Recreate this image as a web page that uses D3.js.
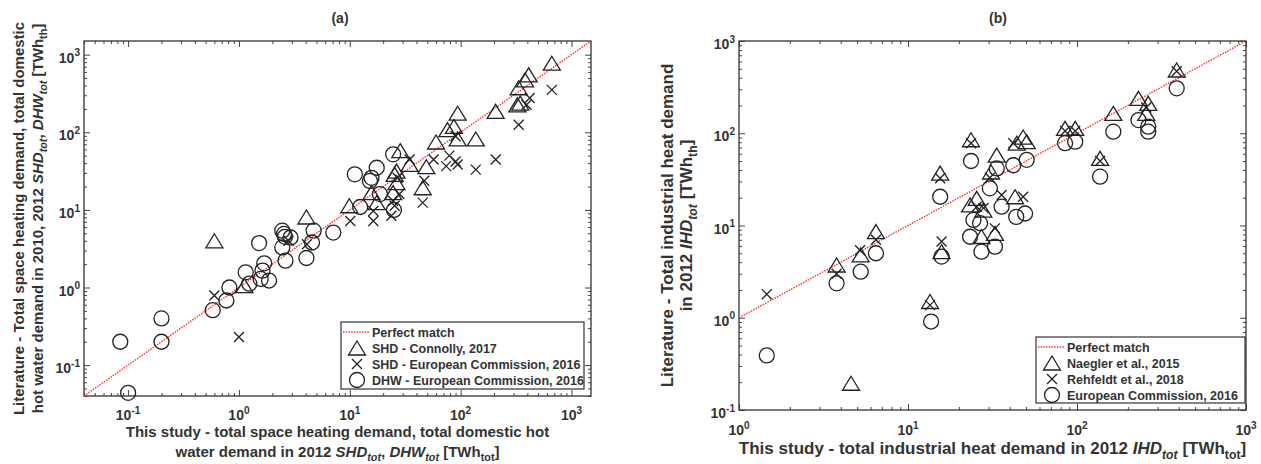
<!DOCTYPE html>
<html>
<head>
<meta charset="utf-8">
<script src="https://cdn.jsdelivr.net/npm/d3@7"></script>
<style>
body { margin: 0; background: #fff; }
text { font-family: "Liberation Sans", Arial, sans-serif; font-weight: bold; fill: #333; }
</style>
</head>
<body>
<script>
// ---- panel (a): space heating / domestic hot water, [x = this study, y = literature] ----
const shdConnolly = [
  [0.6, 4.0], [1.12, 1.06], [4.06, 8.1], [9.9, 11.3], [15.7, 16.7], [17.5, 12.4],
  [24.6, 16.7], [25.4, 28.7], [26.4, 31.6], [26.4, 22.4], [28.5, 58], [34.6, 38.5],
  [45.5, 19.3], [49, 36], [60, 75], [76, 108], [87, 119], [94, 176], [94, 82],
  [137, 82], [207, 186], [325, 226], [345, 238], [334, 375], [381, 473], [411, 550], [665, 776]
]
const shdEC = [
  [0.6, 0.79], [1.0, 0.23], [2.8, 4.0], [4.1, 3.6], [10.1, 7.2], [16.3, 7.2], [16.3, 9.7],
  [23.7, 8.4], [24.6, 13], [27, 26], [28, 16], [25.4, 11.3], [34.6, 44.7], [47, 23.7],
  [45.5, 12.4], [57, 44.7], [74, 36.6], [79, 50], [94, 38.5], [90, 42], [90, 89],
  [137, 33], [207, 44.7], [334, 125], [393, 226], [420, 276], [665, 352]
]
const dhwEC = [
  [0.085, 0.2], [0.1, 0.044], [0.2, 0.4], [0.2, 0.2], [0.58, 0.51], [0.77, 0.68], [0.82, 1.0],
  [1.15, 1.57], [1.24, 1.12], [1.57, 1.29], [1.87, 1.23], [1.69, 2.05], [1.63, 1.65],
  [1.52, 3.74], [2.46, 5.4], [2.55, 4.9], [2.6, 4.5], [2.46, 3.28], [2.63, 2.22], [4.06, 2.4],
  [4.56, 3.8], [4.72, 5.4], [2.92, 4.41], [7.1, 5.1], [12.4, 10.9], [11.1, 28.7], [15.7, 25.9],
  [17.5, 34.9], [18.7, 16.0], [24.6, 52], [15.2, 23.6], [25, 10]
]

// ---- panel (b): industrial heat demand ----
const naegler = [
  [3.78, 3.73], [4.6, 0.195], [5.25, 4.8], [6.46, 8.6], [13.5, 1.5], [15.8, 5.2], [15.5, 37],
  [23.6, 85], [23.3, 16.7], [25.5, 19.7], [27.9, 14.7], [27.2, 7.6], [31, 38], [33.5, 58],
  [32.7, 8.2], [43, 20.5], [44, 78], [48, 91], [50.4, 81], [85, 113], [97.6, 113],
  [137, 53.5], [164, 164], [231, 239], [264, 211], [257, 164], [389, 485]
]
const rehfeldt = [
  [1.46, 1.8], [3.78, 3.0], [5.2, 5.4], [6.46, 7.0], [13.5, 1.37], [15.8, 6.7], [15.5, 32.5],
  [23.6, 78], [25.5, 16], [28, 15.5], [32.7, 9.3], [30.5, 33], [35.8, 21.4], [48, 20.5],
  [42, 78], [85, 106], [97.6, 106], [137, 50], [257, 190], [389, 470]
]
const ecIndustry = [
  [1.46, 0.39], [3.78, 2.36], [5.25, 3.16], [6.46, 5.0], [13.7, 0.91], [15.8, 4.6], [15.5, 20.5],
  [23.6, 50], [24.4, 11.5], [26.7, 10.6], [23.3, 7.55], [27.2, 5.2], [32.7, 5.9], [33.5, 41.6],
  [30.5, 25.3], [35.8, 16], [43.7, 12.4], [49.3, 13.5], [42, 45], [50.4, 51.5], [85, 78],
  [97.6, 81], [137, 33.8], [164, 104], [231, 139], [264, 118], [264, 104], [389, 307]
]

const legendA = ['Perfect match', 'SHD - Connolly, 2017', 'SHD - European Commission, 2016', 'DHW - European Commission, 2016']
const legendB = ['Perfect match', 'Naegler et al., 2015', 'Rehfeldt et al., 2018', 'European Commission, 2016']

const ink = '#222'
const svg = d3.select('body').append('svg').attr('width', 1261).attr('height', 464)

// marker drawing helpers
const markers = {
  tri: g => g.append('path').attr('d', 'M0,-7L8.5,7L-8.5,7Z'),
  cross: g => g.append('path').attr('d', 'M-5,-5L5,5M-5,5L5,-5'),
  circ: g => g.append('circle').attr('r', 7.5)
}

// append text with super/subscript pieces: parts = [[text, kind]] kind: '', 'i', 'sub', 'isub', 'sup'
function richText(sel, parts, size) {
  let shift = 0
  parts.forEach(([t, kind]) => {
    const ts = sel.append('tspan').text(t)
    let want = 0
    if (kind === 'sub' || kind === 'isub') want = size * 0.28
    if (kind === 'sup') want = -size * 0.45
    if (want !== shift) { ts.attr('dy', want - shift); shift = want }
    if (kind === 'i' || kind === 'isub') ts.attr('font-style', 'italic')
    if (kind === 'sub' || kind === 'isub' || kind === 'sup') ts.attr('font-size', size * 0.72)
  })
}

function logTicks(lo, hi) {
  const major = [], minor = []
  for (let e = Math.floor(Math.log10(lo)); e <= Math.ceil(Math.log10(hi)); e++) {
    for (let m = 1; m < 10; m++) {
      const v = +(m * Math.pow(10, e)).toPrecision(6)
      if (v < lo * 0.999 || v > hi * 1.001) continue
      if (m === 1) major.push(v); else minor.push(v)
    }
  }
  return { major, minor }
}

function drawPanel(cfg) {
  const { left, top, right, bottom } = cfg.box
  const x = d3.scaleLog().domain(cfg.xDomain).range([left, right])
  const y = d3.scaleLog().domain(cfg.yDomain).range([bottom, top])
  const g = svg.append('g')

  // inward ticks on all four sides
  const xt = logTicks(...cfg.xDomain), yt = logTicks(...cfg.yDomain)
  const axes = [
    [d3.axisBottom(x), `translate(0,${bottom})`, xt],
    [d3.axisTop(x), `translate(0,${top})`, xt],
    [d3.axisLeft(y), `translate(${left},0)`, yt],
    [d3.axisRight(y), `translate(${right},0)`, yt]
  ]
  axes.forEach(([ax, tr, t]) => {
    [[t.minor, 3], [t.major, 6]].forEach(([vals, len]) => {
      g.append('g').attr('transform', tr)
        .call(ax.tickValues(vals).tickSize(-len).tickFormat(''))
        .call(a => a.select('.domain').remove())
        .selectAll('line').attr('stroke', '#444').attr('stroke-width', 1)
    })
  })
  g.append('rect').attr('x', left).attr('y', top).attr('width', right - left).attr('height', bottom - top)
    .attr('fill', 'none').attr('stroke', '#333').attr('stroke-width', 1.3)

  // tick labels 10^n
  xt.major.forEach(v => {
    const t = g.append('text').attr('x', x(v)).attr('y', bottom + cfg.xLabelOff)
      .attr('text-anchor', 'middle').attr('font-size', 14)
    richText(t, [['10', ''], [String(Math.round(Math.log10(v))), 'sup']], 14)
  })
  yt.major.forEach(v => {
    const t = g.append('text').attr('x', left - 4).attr('y', y(v) + 8)
      .attr('text-anchor', 'end').attr('font-size', 14)
    richText(t, [['10', ''], [String(Math.round(Math.log10(v))), 'sup']], 14)
  })

  // perfect match line y = x
  const lo = Math.max(cfg.xDomain[0], cfg.yDomain[0]), hi = Math.min(cfg.xDomain[1], cfg.yDomain[1])
  g.append('line').attr('x1', x(lo)).attr('y1', y(lo)).attr('x2', x(hi)).attr('y2', y(hi))
    .attr('stroke', '#ff3030').attr('stroke-width', 1.4).attr('stroke-dasharray', '1.5,1.2')

  // series
  cfg.series.forEach(s => {
    g.append('g').selectAll('g').data(s.data).enter().append('g')
      .attr('transform', d => `translate(${x(d[0])},${y(d[1])})`)
      .each(function() { markers[s.shape](d3.select(this)) })
      .selectAll('path,circle').attr('fill', 'none').attr('stroke', ink).attr('stroke-width', 1.3)
  })

  // legend
  const L = cfg.legend
  const lg = g.append('g')
  lg.append('rect').attr('x', L.x).attr('y', L.y).attr('width', L.w).attr('height', L.h)
    .attr('fill', '#fff').attr('stroke', '#333').attr('stroke-width', 1.2)
  L.labels.forEach((lab, i) => {
    const cy = L.y + 10 + i * 16
    if (i === 0) {
      lg.append('line').attr('x1', L.x + 2).attr('x2', L.x + 29).attr('y1', cy).attr('y2', cy)
        .attr('stroke', '#ff3030').attr('stroke-width', 1.4).attr('stroke-dasharray', '1.5,1.2')
    } else {
      const m = lg.append('g').attr('transform', `translate(${L.x + 16},${cy})`)
      markers[cfg.series[i - 1].shape](m)
      m.selectAll('path,circle').attr('fill', 'none').attr('stroke', ink).attr('stroke-width', 1.3)
    }
    lg.append('text').attr('x', L.x + 31).attr('y', cy + 4.5).attr('font-size', 12.5).text(lab)
  })

  // title
  g.append('text').attr('x', cfg.title.x).attr('y', 23).attr('text-anchor', 'middle')
    .attr('font-size', 14).text(cfg.title.text)

  // axis labels
  const cx = (left + right) / 2, cyMid = (top + bottom) / 2
  const fs = cfg.labelSize
  cfg.xLabel.forEach((parts, i) => {
    const t = g.append('text').attr('x', cx).attr('y', cfg.xLabelY + i * 20)
      .attr('text-anchor', 'middle').attr('font-size', fs)
    richText(t, parts, fs)
  })
  cfg.yLabel.forEach((parts, i) => {
    const t = g.append('text').attr('transform', `translate(${cfg.yLabelX[i]},${cyMid}) rotate(-90)`)
      .attr('text-anchor', 'middle').attr('font-size', fs)
    richText(t, parts, fs)
  })
}

drawPanel({
  box: { left: 84, top: 41, right: 591, bottom: 396 },
  xDomain: [0.04, 1500], yDomain: [0.04, 1500],
  xLabelOff: 24,
  series: [
    { data: shdConnolly, shape: 'tri' },
    { data: shdEC, shape: 'cross' },
    { data: dhwEC, shape: 'circ' }
  ],
  legend: { x: 341, y: 322, w: 243, h: 67, labels: legendA },
  title: { x: 340, text: '(a)' },
  labelSize: 15,
  xLabelY: 437,
  xLabel: [
    [['This study - total space heating demand, total domestic hot', '']],
    [['water demand in 2012 ', ''], ['SHD', 'i'], ['tot', 'isub'], [', ', ''], ['DHW', 'i'], ['tot', 'isub'], [' [TWh', ''], ['tot', 'sub'], [']', '']]
  ],
  yLabelX: [24, 43],
  yLabel: [
    [['Literature - Total space heating demand, total domestic', '']],
    [['hot water demand in 2010, 2012 ', ''], ['SHD', 'i'], ['tot', 'isub'], [', ', ''], ['DHW', 'i'], ['tot', 'isub'], [' [TWh', ''], ['th', 'sub'], [']', '']]
  ]
})

drawPanel({
  box: { left: 739, top: 41, right: 1246, bottom: 410 },
  xDomain: [1, 1000], yDomain: [0.1, 1000],
  xLabelOff: 25,
  series: [
    { data: naegler, shape: 'tri' },
    { data: rehfeldt, shape: 'cross' },
    { data: ecIndustry, shape: 'circ' }
  ],
  legend: { x: 1036, y: 337, w: 209, h: 66, labels: legendB },
  title: { x: 998, text: '(b)' },
  labelSize: 17,
  xLabelY: 454,
  xLabel: [
    [['This study - total industrial heat demand in 2012 ', ''], ['IHD', 'i'], ['tot', 'isub'], [' [TWh', ''], ['tot', 'sub'], [']', '']]
  ],
  yLabelX: [673, 692],
  yLabel: [
    [['Literature - Total industrial heat demand', '']],
    [['in 2012 ', ''], ['IHD', 'i'], ['tot', 'isub'], [' [TWh', ''], ['th', 'sub'], [']', '']]
  ]
})
</script>
</body>
</html>
